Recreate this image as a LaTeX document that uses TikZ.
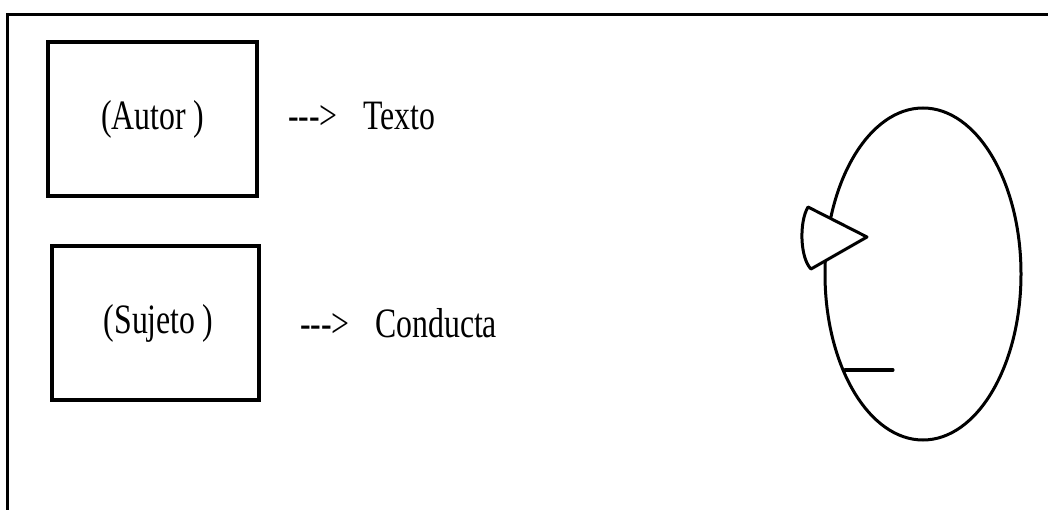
\documentclass[tikz,border=0pt]{standalone}
\usepackage{fontspec}
\usetikzlibrary{shapes.geometric}
\setmainfont{Liberation Serif}[FakeStretch=0.76]
\begin{document}
\begin{tikzpicture}[x=1bp,y=-1bp,
  box/.style={draw,line width=3.6bp,minimum width=207bp,minimum height=154bp,inner sep=0pt,
    font=\fontsize{42}{48}\selectfont},
  lbl/.style={anchor=base west,inner sep=0pt,font=\fontsize{42}{48}\selectfont},
  stroke/.style={line width=3bp,line join=round,line cap=round}]
\useasboundingbox (0,0) rectangle (1048,510);
% partial frame
\coordinate (ftl) at (7,15);
\coordinate (ftr) at (1048,15);
\coordinate (fbl) at (7,510);
\draw[line width=3bp] (ftr) -- (ftl) -- (fbl);
% boxes
\node[box,minimum width=209bp] (autor) at (152.5,119) {\raisebox{4bp}{(Autor\,)}};
\node[box] (sujeto) at (155.5,323) {\hspace{6bp}(Sujeto\,)};
% arrow texts
\node[lbl] (a1) at (288,130) {-{}-{}->};
\node[lbl] (texto) at (363,130) {Texto};
\node[lbl] (a2) at (300,338) {-{}-{}->};
\node[lbl] (conducta) at (375,338) {Conducta};
% head
\node[draw,ellipse,line width=3bp,minimum width=196bp,minimum height=332bp,inner sep=0pt] (head) at (923,274) {};
% nose
\coordinate (n1) at (808,207);
\coordinate (n2) at (867,237);
\coordinate (n3) at (811,269);
\draw[stroke,fill=white] (n1) -- (n2) -- (n3) .. controls (800,258) and (799,222) .. (n1);
% mouth
\coordinate (m1) at (845,370);
\coordinate (m2) at (893,370);
\draw[stroke] (m1) -- (m2);
\end{tikzpicture}
\end{document}
